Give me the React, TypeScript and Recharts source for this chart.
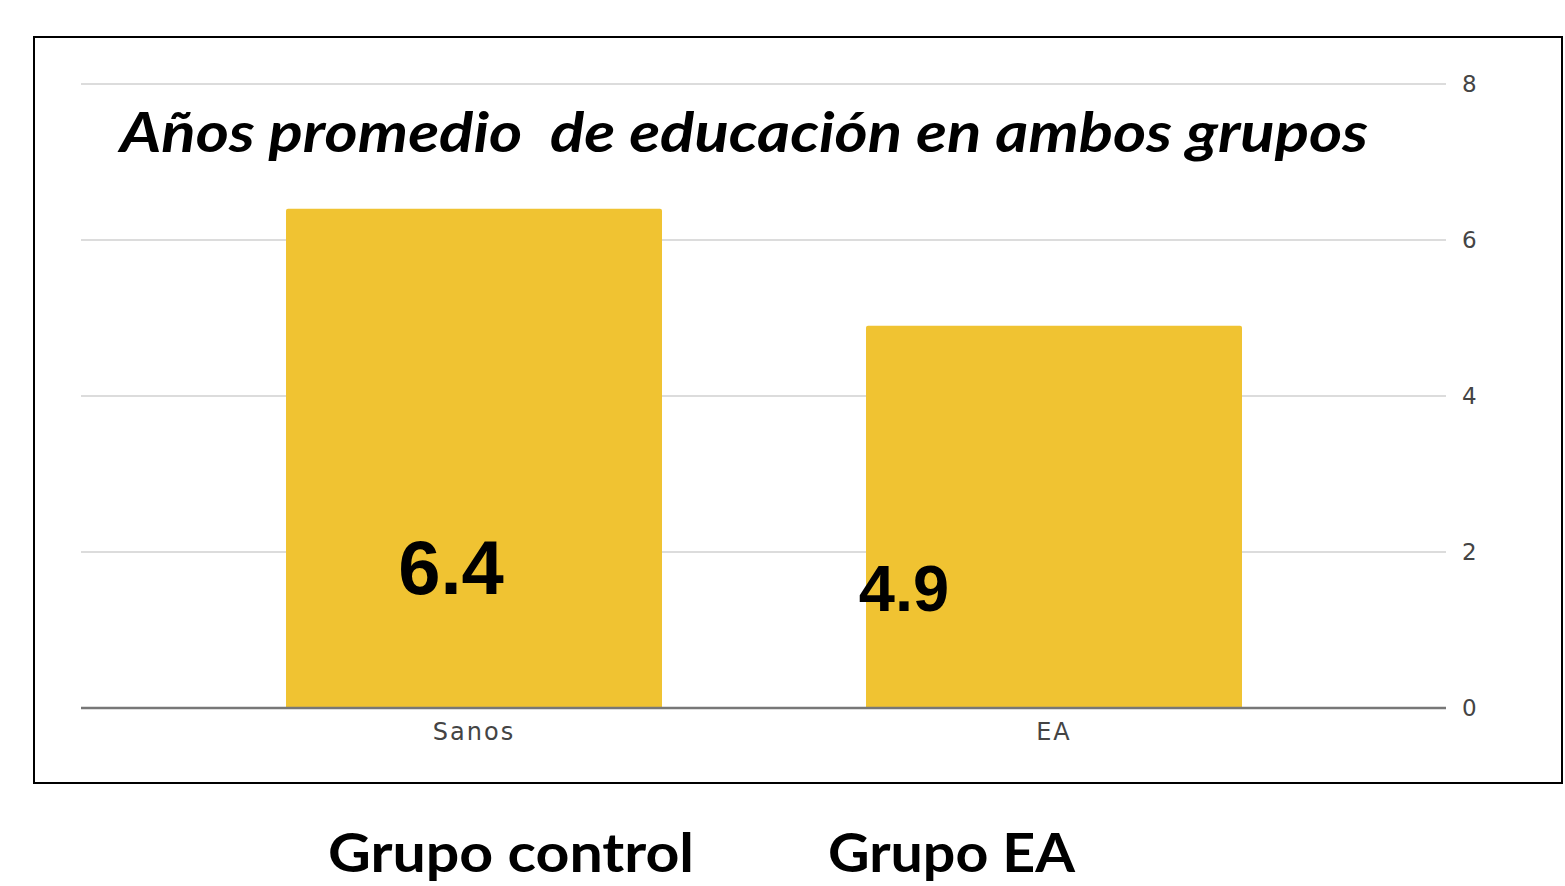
import React from "react";
import { BarChart, Bar, XAxis, YAxis, CartesianGrid, LabelList } from "recharts";

const categories = ["Sanos", "EA"];
const years = [6.4, 4.9];
const valueLabels = ["6.4", "4.9"];
const yTicks = [0, 2, 4, 6, 8];

const title = "Años promedio  de educación en ambos grupos";
const groupNames = ["Grupo control", "Grupo EA"];

const data = categories.map((name, i) => ({ name, years: years[i], label: valueLabels[i] }));

// the big numbers sit inside the bars, not centred on them
const labelStyle = [
  { dx: -23, fromBottom: 114, size: 76 },
  { dx: -150, fromBottom: 97, size: 65 },
];

const BAR = "#F0C332";

function ValueLabel(props: any) {
  const { x, y, width, height, index, value } = props;
  const s = labelStyle[index] || labelStyle[0];
  return (
    <text
      x={x + width / 2 + s.dx}
      y={y + height - s.fromBottom}
      textAnchor="middle"
      fontFamily="'Liberation Sans', Arial, sans-serif"
      fontWeight={700}
      fontSize={s.size}
      fill="#000"
    >
      {value}
    </text>
  );
}

export default function App() {
  return (
    <div style={{ position: "absolute", left: 0, top: 0, width: 1565, height: 886, background: "#fff", overflow: "hidden" }}>
      <div style={{ position: "absolute", left: 33, top: 36, width: 1526, height: 744, border: "2px solid #000" }} />
      <div style={{ position: "absolute", left: 0, top: 0 }}>
        <BarChart
          width={1565}
          height={886}
          data={data}
          margin={{ top: 84, right: 59, bottom: 138, left: 81 }}
          barSize={376}
        >
          <CartesianGrid vertical={false} stroke="#dcdcdc" strokeWidth={2} />
          <XAxis
            dataKey="name"
            padding={{ left: 103, right: 102 }}
            axisLine={{ stroke: "#777", strokeWidth: 2.5 }}
            tickLine={false}
            tickSize={0}
            tickMargin={15}
            height={40}
            tick={{ fill: "#444", fontSize: 24, fontFamily: "'DejaVu Sans', sans-serif", letterSpacing: 2 }}
          />
          <YAxis
            orientation="right"
            domain={[0, 8]}
            ticks={yTicks}
            axisLine={false}
            tickLine={false}
            tickSize={0}
            tickMargin={16}
            width={60}
            tick={{ fill: "#444", fontSize: 23, fontFamily: "'DejaVu Sans', sans-serif", textAnchor: "start" }}
          />
          <Bar dataKey="years" fill={BAR} radius={[2, 2, 0, 0]} isAnimationActive={false}>
            <LabelList dataKey="label" content={ValueLabel} />
          </Bar>
        </BarChart>
      </div>
      <svg width={1565} height={886} style={{ position: "absolute", left: 0, top: 0, pointerEvents: "none" }}>
        <text
          x={120}
          y={152}
          textLength={1248}
          lengthAdjust="spacingAndGlyphs"
          fontFamily="Lato, 'Open Sans', sans-serif"
          fontWeight={700}
          fontStyle="italic"
          fontSize={55}
          fill="#000"
          style={{ whiteSpace: "pre" }}
        >
          {title}
        </text>
        <text x={328} y={872} textLength={366} lengthAdjust="spacingAndGlyphs" fontFamily="Lato, 'Open Sans', sans-serif" fontWeight={700} fontSize={54} fill="#000">
          {groupNames[0]}
        </text>
        <text x={828} y={872} textLength={247} lengthAdjust="spacingAndGlyphs" fontFamily="Lato, 'Open Sans', sans-serif" fontWeight={700} fontSize={54} fill="#000">
          {groupNames[1]}
        </text>
      </svg>
    </div>
  );
}
